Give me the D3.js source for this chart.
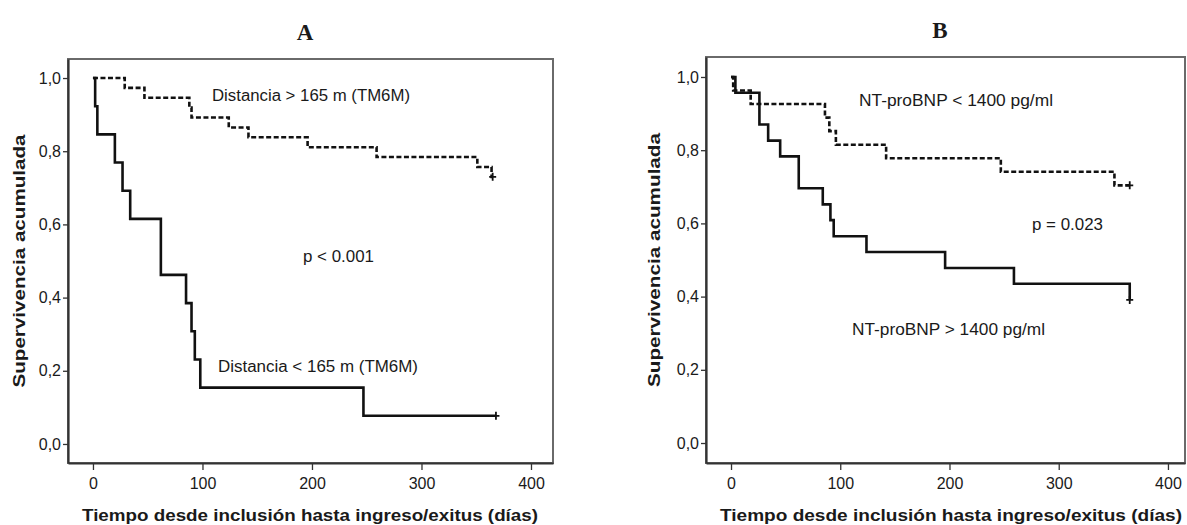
<!DOCTYPE html>
<html><head><meta charset="utf-8">
<script src="https://cdn.jsdelivr.net/npm/d3@7"></script>
<style>
body{margin:0;background:#fff}
svg{display:block}
text{font-family:"Liberation Sans",Arial,sans-serif;fill:#1a1a1a}
</style>
</head><body>
<svg id="chart" width="1187" height="525"></svg>
<script>
// ---------- data ----------
const yTicks = [0, 0.2, 0.4, 0.6, 0.8, 1.0];
const xTicks = [0, 100, 200, 300, 400];
const panelTitles = ["A", "B"];
const yAxisTitle = "Supervivencia acumulada";
const xAxisTitle = "Tiempo desde inclusión hasta ingreso/exitus (días)";

// Panel A: Distancia > 165 m (dashed)
const aHighTimes = [0, 29, 47, 88, 90, 124, 142, 196, 259, 351, 364, 365];
const aHighSurv  = [1.0, 0.973, 0.946, 0.919, 0.892, 0.865, 0.838, 0.811, 0.784, 0.757, 0.730, 0.730];
const aHighCensor = [365];
// Panel A: Distancia < 165 m (solid)
const aLowTimes = [0, 2, 4, 20, 27, 34, 62, 85, 90, 93, 98, 247, 368];
const aLowSurv  = [1.0, 0.923, 0.846, 0.769, 0.692, 0.615, 0.462, 0.385, 0.308, 0.231, 0.154, 0.077, 0.077];
const aLowCensor = [368];
const aLabels = ["Distancia > 165 m (TM6M)", "p < 0.001", "Distancia < 165 m (TM6M)"];

// Panel B: NT-proBNP < 1400 (dashed)
const bLowTimes = [0, 2, 18, 86, 90, 96, 142, 247, 351, 365];
const bLowSurv  = [1.0, 0.963, 0.926, 0.889, 0.852, 0.815, 0.778, 0.741, 0.704, 0.704];
const bLowCensor = [365];
// Panel B: NT-proBNP > 1400 (solid)
const bHighTimes = [0, 4, 26, 34, 45, 62, 84, 91, 94, 124, 196, 259, 365];
const bHighSurv  = [1.0, 0.957, 0.870, 0.826, 0.783, 0.696, 0.652, 0.609, 0.565, 0.522, 0.478, 0.435, 0.391];
const bHighCensor = [365];
const bLabels = ["NT-proBNP < 1400 pg/ml", "p = 0.023", "NT-proBNP > 1400 pg/ml"];

// ---------- layout ----------
const panels = [
  { title: panelTitles[0], titleX: 305, titleY: 40,
    left: 68, right: 553, top: 59, bottom: 463,
    xDom: [-22.8, 420.1], yDom: [-0.052, 1.052],
    yLabelX: 25, yLabelY: 261, yLabelLen: 253,
    xLabelX: 310, xLabelLen: 456,
    series: [
      { t: aHighTimes, s: aHighSurv, c: aHighCensor, dash: true },
      { t: aLowTimes, s: aLowSurv, c: aLowCensor, dash: false }
    ],
    labels: [
      { text: aLabels[0], x: 212, y: 101, len: 198 },
      { text: aLabels[1], x: 303, y: 262, len: 71 },
      { text: aLabels[2], x: 218, y: 372, len: 200 }
    ]
  },
  { title: panelTitles[1], titleX: 940, titleY: 38,
    left: 706, right: 1185, top: 57, bottom: 463,
    xDom: [-22.9, 415.6], yDom: [-0.0546, 1.0546],
    yLabelX: 660, yLabelY: 260, yLabelLen: 254,
    xLabelX: 951, xLabelLen: 462,
    series: [
      { t: bLowTimes, s: bLowSurv, c: bLowCensor, dash: true },
      { t: bHighTimes, s: bHighSurv, c: bHighCensor, dash: false }
    ],
    labels: [
      { text: bLabels[0], x: 859, y: 106, len: 194 },
      { text: bLabels[1], x: 1032, y: 230, len: 71 },
      { text: bLabels[2], x: 852, y: 335, len: 193 }
    ]
  }
];

const svg = d3.select("#chart");
const fmt = v => d3.format(".1f")(v).replace(".", ",");

panels.forEach(p => {
  const x = d3.scaleLinear().domain(p.xDom).range([p.left, p.right]);
  const y = d3.scaleLinear().domain(p.yDom).range([p.bottom, p.top]);
  const g = svg.append("g");

  // frame
  g.append("rect")
    .attr("x", p.left).attr("y", p.top)
    .attr("width", p.right - p.left).attr("height", p.bottom - p.top)
    .attr("fill", "none").attr("stroke", "#6a6a6a").attr("stroke-width", 2);

  // axes
  const ya = g.append("g").attr("transform", `translate(${p.left},0)`)
    .call(d3.axisLeft(y).tickValues(yTicks).tickFormat(fmt).tickSize(5).tickPadding(2).tickSizeOuter(0));
  const xa = g.append("g").attr("transform", `translate(0,${p.bottom})`)
    .call(d3.axisBottom(x).tickValues(xTicks).tickSize(7).tickPadding(8).tickSizeOuter(0));
  [ya, xa].forEach(a => {
    a.select(".domain").attr("stroke", "#333").attr("stroke-width", 2.2);
    a.selectAll(".tick line").attr("stroke", "#333").attr("stroke-width", 1.3);
    a.selectAll(".tick text").style("font-size", "16px").attr("fill", "#1a1a1a");
  });

  // curves
  const line = d3.line().x(d => x(d[0])).y(d => y(d[1])).curve(d3.curveStepAfter);
  p.series.forEach(se => {
    const pts = se.t.map((t, i) => [t, se.s[i]]);
    g.append("path").attr("d", line(pts))
      .attr("fill", "none").attr("stroke", "#111").attr("stroke-width", 2.6)
      .attr("stroke-dasharray", se.dash ? "5,2.5" : null);
    const survAt = t => { let v = se.s[0]; se.t.forEach((tt, i) => { if (tt <= t) v = se.s[i]; }); return v; };
    se.c.forEach(ct => {
      const cx = x(ct), cy = y(survAt(ct));
      g.append("path").attr("d", `M${cx - 3.5},${cy}H${cx + 3.5}M${cx},${cy - 4}V${cy + 4}`)
        .attr("stroke", "#111").attr("stroke-width", 1.8);
    });
  });

  // annotations
  p.labels.forEach(l => {
    g.append("text").attr("x", l.x).attr("y", l.y)
      .attr("textLength", l.len).attr("lengthAdjust", "spacingAndGlyphs")
      .style("font-size", "16px").text(l.text);
  });

  // titles
  g.append("text").attr("x", p.titleX).attr("y", p.titleY).attr("text-anchor", "middle")
    .style("font-family", '"Liberation Serif","Times New Roman",serif')
    .style("font-weight", "bold").style("font-size", "23px").text(p.title);

  g.append("text")
    .attr("transform", `translate(${p.yLabelX},${p.yLabelY}) rotate(-90)`)
    .attr("text-anchor", "middle")
    .attr("textLength", p.yLabelLen).attr("lengthAdjust", "spacingAndGlyphs")
    .style("font-weight", "bold").style("font-size", "17px").text(yAxisTitle);

  g.append("text").attr("x", p.xLabelX).attr("y", 521).attr("text-anchor", "middle")
    .attr("textLength", p.xLabelLen).attr("lengthAdjust", "spacingAndGlyphs")
    .style("font-weight", "bold").style("font-size", "17px").text(xAxisTitle);
});
</script>
</body></html>
